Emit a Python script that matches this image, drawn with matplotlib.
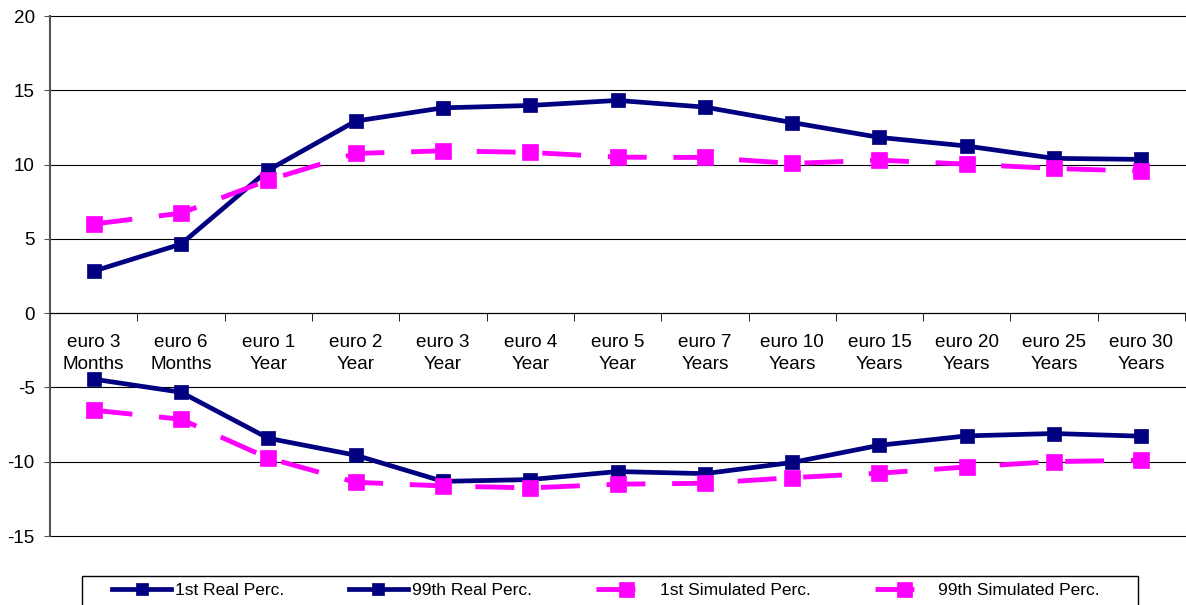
import numpy as np
import matplotlib
matplotlib.use("Agg")
import matplotlib.pyplot as plt
from matplotlib.patches import Rectangle

maturities = ["euro 3\nMonths", "euro 6\nMonths", "euro 1\nYear", "euro 2\nYear",
              "euro 3\nYear", "euro 4\nYear", "euro 5\nYear", "euro 7\nYears",
              "euro 10\nYears", "euro 15\nYears", "euro 20\nYears", "euro 25\nYears",
              "euro 30\nYears"]

real_p1 = [-4.44, -5.32, -8.42, -9.56, -11.32, -11.2, -10.66, -10.8,
           -10.05, -8.89, -8.26, -8.1, -8.28]
real_p99 = [2.83, 4.65, 9.63, 12.93, 13.82, 13.98, 14.32, 13.87,
            12.83, 11.83, 11.25, 10.42, 10.35]
sim_p1 = [-6.53, -7.14, -9.76, -11.38, -11.63, -11.76, -11.51, -11.45,
          -11.07, -10.77, -10.35, -9.99, -9.9]
sim_p99 = [6.0, 6.73, 8.96, 10.75, 10.93, 10.82, 10.5, 10.48,
           10.08, 10.3, 10.03, 9.74, 9.56]

plt.rcParams["font.family"] = ["Liberation Sans", "DejaVu Sans"]
plt.rcParams["axes.unicode_minus"] = False

NAVY = "#000080"
PINK = "#FF00FF"

fig = plt.figure(figsize=(11.86, 6.05), dpi=100)
ax = fig.add_axes([0.0422, 0.114, 0.957, 0.8595])

x = np.arange(len(maturities))
solid = dict(color=NAVY, lw=3.4, marker="s", ms=9.5, mec=NAVY, mew=0.5)
dashed = dict(color=PINK, lw=3.5, marker="s", ms=12, mec=PINK, mew=0.5,
              dashes=(8, 5.5))
ax.plot(x, real_p1, label="1st Real Perc.", **solid)
ax.plot(x, real_p99, label="99th Real Perc.", **solid)
ax.plot(x, sim_p1, label="1st Simulated Perc.", **dashed)
ax.plot(x, sim_p99, label="99th Simulated Perc.", **dashed)

ax.set_xlim(-0.5, len(maturities) - 0.5)
ax.set_ylim(-15, 20)
ax.set_yticks(np.arange(-15, 21, 5))
ax.yaxis.grid(True, color="black", lw=0.8)
for gl in ax.get_ygridlines():
    gl.set_clip_on(False)
ax.set_axisbelow(True)

for side in ("top", "right"):
    ax.spines[side].set_visible(False)
ax.spines["left"].set_color("#555555")
ax.spines["left"].set_linewidth(1.5)
ax.spines["bottom"].set_position(("data", 0))
ax.spines["bottom"].set_color("black")

# category labels centred, tick marks on the boundaries
ax.set_xticks(x)
ax.set_xticklabels(maturities, fontsize=13.6, linespacing=1.4)
ax.set_xticks(np.arange(len(maturities) + 1) - 0.5, minor=True)
ax.tick_params(axis="x", which="major", length=0, pad=15)
ax.tick_params(axis="x", which="minor", length=6, direction="out", color="black")
ax.tick_params(axis="y", length=4, pad=7, labelsize=13.6, color="#555555")

# legend box runs off the bottom edge
fig.patches.append(Rectangle((82 / 1186, -0.02), (1138 - 82) / 1186, 29 / 605 + 0.02,
                             transform=fig.transFigure, fill=False,
                             ec="black", lw=1.0))
fig.legend(ncol=4, loc="center left", bbox_to_anchor=(112 / 1186, 1 - 590 / 605),
           frameon=False, borderpad=0, borderaxespad=0, fontsize=12.5,
           handlelength=3.4, handletextpad=0.25, columnspacing=3.7,
           markerscale=0.9)

fig.savefig("out.png", dpi=100)
